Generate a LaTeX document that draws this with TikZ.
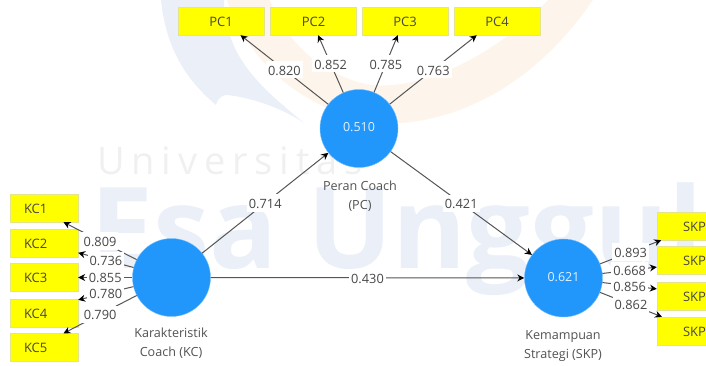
\documentclass[tikz,border=0pt]{standalone}
\usepackage{fontspec}
\setmainfont{Open Sans}
\usetikzlibrary{arrows.meta}
\definecolor{latentblue}{HTML}{2196FB}
\definecolor{itemyellow}{HTML}{FFFF00}
\definecolor{itemedge}{HTML}{E4E48C}
\definecolor{pathgray}{HTML}{555555}
\definecolor{markblue}{HTML}{EBF0F8}
\definecolor{markorange}{HTML}{FDF5EC}
\definecolor{markgray}{HTML}{F0F0F0}
\begin{document}
\begin{tikzpicture}[x=1pt, y=-1pt,
    latent/.style ={circle, fill=latentblue, draw=latentblue!60!white, minimum size=78pt, inner sep=0pt, text depth=3pt, text=white!88!latentblue, font=\fontsize{12.5}{14}\selectfont},
    pcitem/.style ={rectangle, fill=itemyellow, draw=itemedge, minimum width=86pt, minimum height=28pt, inner sep=0pt, text height=10.5pt, text=black!72, font=\fontsize{13}{14}\selectfont},
    kcitem/.style ={pcitem, minimum width=68pt, text width=40pt, inner xsep=14pt, align=left},
    skpitem/.style ={pcitem, minimum width=49pt, text width=49pt, align=right},
    path/.style ={draw=pathgray, line width=1pt, -{Stealth[length=7pt, width=7pt, black]}},
    weight/.style ={fill=white, inner xsep=2pt, inner ysep=3pt, text height=11pt, text=black!72, font=\fontsize{12.8}{14}\selectfont},
    caption/.style ={align=center, text=black!68, font=\fontsize{12.6}{19}\selectfont}]
   \clip (0,0) rectangle (706,366);

   % watermark
   \fill[markblue] (161,0) .. controls (165,40) and (180,75) .. (216,105) .. controls (218,98) and (222,95) .. (227,95) .. controls (255,98) and (285,110) .. (304,123) .. controls (265,90) and (225,60) .. (224,0) -- cycle;
   \fill[markorange] (227,0) .. controls (255,80) and (330,125) .. (404,123) .. controls (480,115) and (545,70) .. (593,0) -- (548,0) .. controls (490,60) and (420,90) .. (370,85) .. controls (320,75) and (285,40) .. (270,0) -- cycle;
   \node[text=markgray, anchor=west, inner sep=0pt, font=\fontsize{38}{40}\selectfont\addfontfeature{LetterSpace=18}] (college) at (97,161) {Universitas};
   \node[text=markblue, font=\fontsize{113}{115}\bfseries\selectfont, anchor=base west, inner sep=0pt] (campus) at (90,268) {Esa Unggul};

   % indicators
   \node[pcitem] (pc1) at (221,21) {PC1};
   \node[pcitem] (pc2) at (313.5,21) {PC2};
   \node[pcitem] (pc3) at (405,21) {PC3};
   \node[pcitem] (pc4) at (497,21) {PC4};

   \node[kcitem] (kc1) at (44,208) {KC1};
   \node[kcitem] (kc2) at (44,243) {KC2};
   \node[kcitem] (kc3) at (44,277.5) {KC3};
   \node[kcitem] (kc4) at (44,313) {KC4};
   \node[kcitem] (kc5) at (44,347.5) {KC5};

   \node[skpitem] (skp1) at (681.5,226) {SKP};
   \node[skpitem] (skp2) at (681.5,260.5) {SKP};
   \node[skpitem] (skp3) at (681.5,296) {SKP};
   \node[skpitem] (skp4) at (681.5,331) {SKP};

   % constructs
   \node[latent] (pc) at (359,128.5) {0.510};
   \node[latent] (kc) at (171.5,277.5) {};
   \node[latent] (skp) at (563.5,278) {0.621};

   \node[caption] (pctext) at (360,196) {Peran Coach\\(PC)};
   \node[caption] (kctext) at (171,343.5) {Karakteristik\\Coach (KC)};
   \node[caption] (skptext) at (563,346) {Kemampuan\\Strategi (SKP)};

   % outer loadings
   \draw[path] (pc) -- node[weight] {0.820} (pc1.-36);
   \draw[path] (pc) -- node[weight] {0.852} (pc2.-72);
   \draw[path] (pc) -- node[weight] {0.785} (pc3.243);
   \draw[path] (pc) -- node[weight] {0.763} (pc4.215);

   \draw[path] (kc) -- node[weight] {0.809} (kc1.-36);
   \draw[path] (kc) -- node[weight] {0.736} (kc2.-16);
   \draw[path] (kc) -- node[weight] {0.855} (kc3.0);
   \draw[path] (kc) -- node[weight] {0.780} (kc4.21);
   \draw[path] (kc) -- node[weight] {0.790} (kc5.36);

   \draw[path] (skp) -- node[weight] {0.893} (skp1.215);
   \draw[path] (skp) -- node[weight] {0.668} (skp2.195);
   \draw[path] (skp) -- node[weight] {0.856} (skp3.164);
   \draw[path] (skp) -- node[weight] {0.862} (skp4.144);

   % inner paths
   \draw[path] (kc) -- node[weight] {0.714} (pc);
   \draw[path] (pc) -- node[weight] {0.421} (skp);
   \draw[path] (kc) -- node[weight] {0.430} (skp);
\end{tikzpicture}
\end{document}
